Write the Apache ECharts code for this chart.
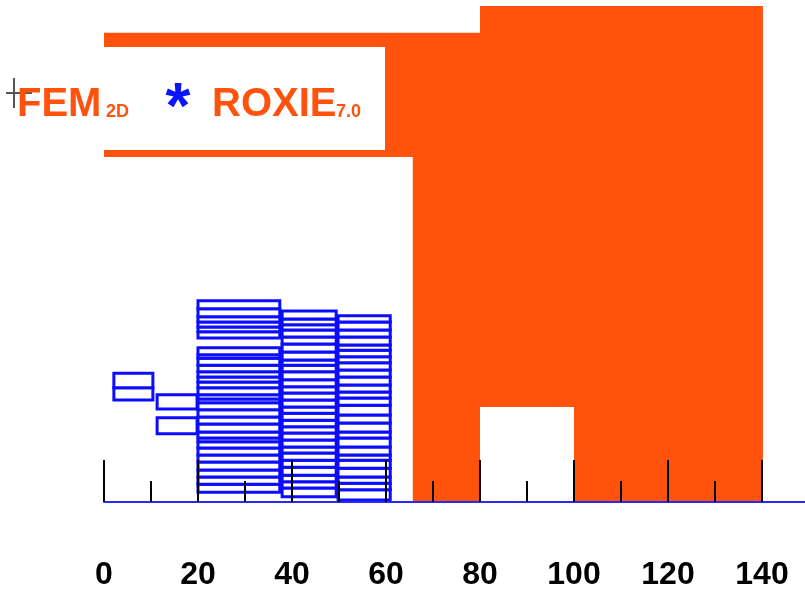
<!DOCTYPE html>
<html><head><meta charset="utf-8">
<script src="https://cdn.jsdelivr.net/npm/echarts@6/dist/echarts.min.js"></script>
<style>html,body{margin:0;padding:0;background:#fff}#c{width:805px;height:597px}</style>
</head><body><div id="c"></div>
<script>
// tick labels
const xTicks = [0, 20, 40, 60, 80, 100, 120, 140];
// iron yoke outline (data units)
const yokeX = [0, 80, 80, 140.2, 140.2, 100, 100, 80, 80, 65.7, 65.7, 0];
const yokeY = [99.8, 99.8, 112, 112, 0, 0, 20.2, 20.2, 0, 0, 73.4, 73.4];
// coil blocks: x extents and cable edges (y)
const blockAX = [2.1, 10.4];
const blockAEdges = [21.7, 24.3, 27.4];
const blockBX = [11.3, 19.8];
const blockBRects = [[14.5, 17.9], [19.8, 22.8]];
const col1X = [20.0, 37.4];
const col1UpperEdges = [34.9, 36.2, 37.2, 38.3, 39.4, 41.1, 42.8];
const col1LowerEdges = [2.1, 3.8, 5.3, 6.8, 8.5, 10.0, 11.5, 12.8, 13.6, 14.9, 16.6, 18.1, 19.6, 21.1, 21.9, 22.8, 24.3, 25.5, 26.6, 27.7, 29.1, 30.6, 31.3, 32.8];
const col2X = [37.9, 49.4];
const col2Edges = [1.1, 3.0, 4.3, 5.7, 7.4, 8.9, 10.4, 11.7, 13.2, 14.7, 16.0, 17.4, 18.9, 20.2, 21.7, 23.2, 24.5, 26.0, 27.7, 29.1, 30.2, 31.9, 33.6, 35.1, 36.6, 37.7, 38.9, 40.6];
const col3X = [49.8, 60.9];
const col3Edges = [0.4, 2.6, 4.0, 5.3, 7.2, 8.9, 10.0, 11.7, 13.6, 14.9, 16.8, 18.5, 20.6, 22.1, 23.4, 24.9, 26.6, 28.1, 29.6, 30.9, 32.3, 33.4, 35.1, 36.6, 38.3, 39.6];

const ORANGE = '#ff530d';
const BLUE = '#0c0cff';

function edgesToRects(xr, edges) {
  const out = [];
  for (let i = 0; i < edges.length - 1; i++) out.push([xr[0], xr[1], edges[i], edges[i + 1]]);
  return out;
}
const cableRects = [].concat(
  edgesToRects(blockAX, blockAEdges),
  blockBRects.map(r => [blockBX[0], blockBX[1], r[0], r[1]]),
  edgesToRects(col1X, col1UpperEdges),
  edgesToRects(col1X, col1LowerEdges),
  edgesToRects(col2X, col2Edges),
  edgesToRects(col3X, col3Edges)
);

const chart = echarts.init(document.getElementById('c'), null, {renderer: 'canvas'});
chart.setOption({
  animation: false,
  backgroundColor: '#fff',
  grid: [
    {left: 104, right: 0, top: 6, bottom: 95},
    {left: 104, right: 43, top: 6, bottom: 95}
  ],
  xAxis: [
    {
      type: 'value', gridIndex: 0, min: 0, max: 149.15, z: 10,
      axisLine: {show: true, onZero: false, lineStyle: {color: '#2a2aff', width: 2}},
      axisTick: {show: false}, axisLabel: {show: false}, splitLine: {show: false}
    },
    {
      type: 'value', gridIndex: 1, min: 0, max: 140, interval: 20, z: 11,
      axisLine: {show: false, onZero: false},
      axisTick: {show: true, inside: true, length: 42, lineStyle: {color: '#000', width: 2}},
      minorTick: {show: true, splitNumber: 2, length: 21, lineStyle: {color: '#000', width: 2}},
      splitLine: {show: false},
      minorSplitLine: {show: false},
      axisLabel: {
        formatter: v => xTicks.includes(v) ? String(v) : '',
        margin: 73, verticalAlign: 'middle', color: '#000',
        fontFamily: "'Liberation Sans', Arial, sans-serif",
        fontWeight: 'bold', fontSize: 32
      }
    }
  ],
  yAxis: [
    {type: 'value', gridIndex: 0, min: 0, max: 105.5, show: false},
    {type: 'value', gridIndex: 1, min: 0, max: 105.5, show: false}
  ],
  series: [
    {
      type: 'custom', xAxisIndex: 0, yAxisIndex: 0, clip: true, z: 2,
      data: [[0]],
      renderItem: (params, api) => {
        const pts = yokeX.map((x, i) => api.coord([x, yokeY[i]]));
        return {type: 'polygon', shape: {points: pts}, style: {fill: ORANGE}};
      }
    },
    {
      type: 'custom', xAxisIndex: 0, yAxisIndex: 0, clip: true, z: 3,
      data: cableRects,
      renderItem: (params, api) => {
        const p0 = api.coord([api.value(0), api.value(3)]);
        const p1 = api.coord([api.value(1), api.value(2)]);
        return {type: 'rect', shape: {x: p0[0], y: p0[1], width: p1[0] - p0[0], height: p1[1] - p0[1]},
          style: {fill: '#fff', stroke: BLUE, lineWidth: 3}};
      }
    }
  ],
  graphic: [
    {type: 'rect', z: 100, shape: {x: 0, y: 47, width: 385, height: 103}, style: {fill: '#fff'}},
    {type: 'line', z: 101, shape: {x1: 6, y1: 93, x2: 32, y2: 93}, style: {stroke: '#555', lineWidth: 2}},
    {type: 'line', z: 101, shape: {x1: 14, y1: 78, x2: 14, y2: 108}, style: {stroke: '#555', lineWidth: 2}},
    {type: 'text', z: 101, style: {x: 17, y: 105, text: 'FEM', verticalAlign: 'middle', fill: ORANGE,
      font: "bold 40px 'Liberation Sans', Arial, sans-serif"}},
    {type: 'text', z: 101, style: {x: 106, y: 112, text: '2D', verticalAlign: 'middle', fill: ORANGE,
      font: "bold 18px 'Liberation Sans', Arial, sans-serif"}},
    {type: 'text', z: 101, style: {x: 178, y: 110, text: '*', align: 'center', verticalAlign: 'middle', fill: '#0a14ff',
      font: "bold 64px 'Liberation Sans', Arial, sans-serif"}},
    {type: 'text', z: 101, style: {x: 212, y: 105, text: 'ROXIE', verticalAlign: 'middle', fill: ORANGE,
      font: "bold 40px 'Liberation Sans', Arial, sans-serif"}},
    {type: 'text', z: 101, style: {x: 336, y: 112, text: '7.0', verticalAlign: 'middle', fill: ORANGE,
      font: "bold 18px 'Liberation Sans', Arial, sans-serif"}}
  ]
});
</script></body></html>
